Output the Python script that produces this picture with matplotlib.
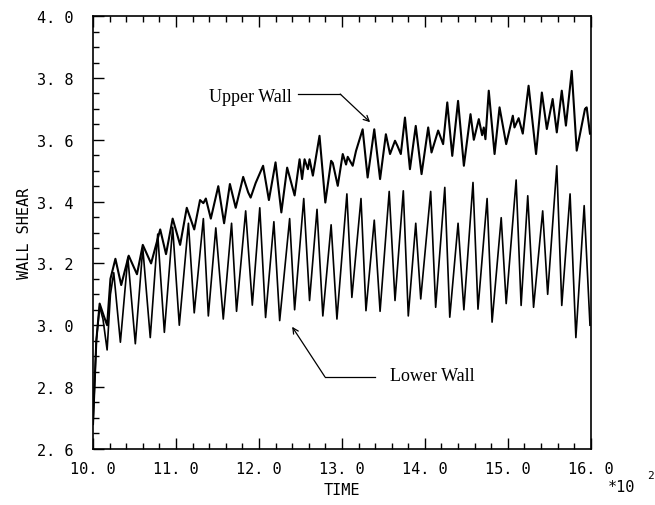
import matplotlib
matplotlib.use("Agg")
import matplotlib.pyplot as plt
from matplotlib.ticker import MultipleLocator, FuncFormatter

# ── data (time in units of 10^2) ──────────────────────────────────────────────
lower_t = [10.00, 10.04, 10.08, 10.12, 10.17, 10.21, 10.25, 10.33, 10.42, 10.51,
           10.60, 10.69, 10.78, 10.86, 10.96, 11.04, 11.15, 11.22, 11.33, 11.39,
           11.48, 11.57, 11.67, 11.73, 11.84, 11.92, 12.01, 12.08, 12.18, 12.25,
           12.37, 12.43, 12.54, 12.61, 12.70, 12.77, 12.87, 12.94, 13.06, 13.12,
           13.23, 13.29, 13.39, 13.46, 13.57, 13.64, 13.74, 13.80, 13.89, 13.95,
           14.07, 14.13, 14.24, 14.30, 14.40, 14.47, 14.58, 14.64, 14.75, 14.81,
           14.92, 14.98, 15.10, 15.16, 15.24, 15.31, 15.42, 15.48, 15.59, 15.65,
           15.75, 15.82, 15.92, 15.99]
lower_v = [2.68, 2.95, 3.06, 3.02, 2.92, 3.10, 3.17, 2.945, 3.22, 2.94,
           3.25, 2.96, 3.295, 2.977, 3.317, 3.00, 3.33, 3.04, 3.345, 3.03,
           3.315, 3.02, 3.33, 3.045, 3.37, 3.065, 3.38, 3.025, 3.335, 3.015,
           3.345, 3.05, 3.41, 3.08, 3.375, 3.03, 3.325, 3.02, 3.425, 3.09,
           3.41, 3.047, 3.34, 3.045, 3.433, 3.08, 3.435, 3.03, 3.33, 3.085,
           3.433, 3.058, 3.446, 3.026, 3.33, 3.05, 3.462, 3.052, 3.41, 3.01,
           3.348, 3.07, 3.47, 3.064, 3.419, 3.058, 3.37, 3.10, 3.516, 3.064,
           3.425, 2.96, 3.387, 3.00]

upper_t = [10.00, 10.04, 10.08, 10.13, 10.17, 10.21, 10.27, 10.34, 10.43, 10.53,
           10.60, 10.70, 10.81, 10.88, 10.96, 11.05, 11.13, 11.22, 11.29, 11.33,
           11.36, 11.42, 11.51, 11.58, 11.65, 11.72, 11.81, 11.87, 11.90, 11.96,
           12.05, 12.12, 12.20, 12.27, 12.34, 12.43, 12.49, 12.52, 12.55, 12.59,
           12.61, 12.65, 12.73, 12.80, 12.87, 12.89, 12.95, 13.01, 13.05, 13.07,
           13.13, 13.17, 13.25, 13.31, 13.39, 13.46, 13.53, 13.58, 13.64, 13.67,
           13.71, 13.76, 13.82, 13.89, 13.96, 14.04, 14.08, 14.16, 14.22, 14.27,
           14.33, 14.40, 14.47, 14.55, 14.59, 14.65, 14.69, 14.71, 14.73, 14.77,
           14.84, 14.90, 14.98, 15.06, 15.08, 15.13, 15.18, 15.25, 15.34, 15.41,
           15.47, 15.54, 15.59, 15.65, 15.70, 15.77, 15.83, 15.93, 15.95, 15.99]
upper_v = [2.68, 2.95, 3.07, 3.03, 3.00, 3.15, 3.215, 3.13, 3.225, 3.165,
           3.26, 3.20, 3.31, 3.23, 3.345, 3.26, 3.38, 3.31, 3.405, 3.395,
           3.41, 3.345, 3.45, 3.33, 3.457, 3.38, 3.48, 3.43, 3.413, 3.46,
           3.516, 3.405, 3.527, 3.365, 3.51, 3.42, 3.537, 3.473, 3.537, 3.505,
           3.537, 3.484, 3.613, 3.397, 3.532, 3.525, 3.451, 3.554, 3.52, 3.545,
           3.516, 3.564, 3.634, 3.478, 3.634, 3.473, 3.618, 3.554, 3.597, 3.58,
           3.554, 3.672, 3.505, 3.645, 3.489, 3.64, 3.559, 3.63, 3.586, 3.721,
           3.548, 3.726, 3.516, 3.683, 3.60, 3.667, 3.615, 3.64, 3.602, 3.759,
           3.554, 3.705, 3.586, 3.678, 3.64, 3.67, 3.62, 3.775, 3.554, 3.753,
           3.635, 3.732, 3.624, 3.759, 3.646, 3.823, 3.565, 3.70, 3.705, 3.62]

MONO = "DejaVu Sans Mono"
SERIF = "Liberation Serif"

# ── figure ────────────────────────────────────────────────────────────────────
fig = plt.figure(figsize=(6.55, 5.06), dpi=100)
ax = fig.add_axes([0.142, 0.111, 0.760, 0.855])

ax.plot(upper_t, upper_v, color="black", lw=1.5, solid_joinstyle="round")
ax.plot(lower_t, lower_v, color="black", lw=1.2, solid_joinstyle="round")

ax.set_xlim(10.0, 16.0)
ax.set_ylim(2.6, 4.0)

ax.xaxis.set_major_locator(MultipleLocator(1.0))
ax.xaxis.set_minor_locator(MultipleLocator(0.2))
ax.yaxis.set_major_locator(MultipleLocator(0.2))
ax.yaxis.set_minor_locator(MultipleLocator(0.05))
fmt = FuncFormatter(lambda v, _: f"{v:.1f}".replace(".", ". "))
ax.xaxis.set_major_formatter(fmt)
ax.yaxis.set_major_formatter(fmt)

ax.tick_params(which="both", direction="in", top=True, right=False,
               width=1.0, labelsize=11)
ax.tick_params(which="major", length=8)
ax.tick_params(which="minor", length=4)
ax.tick_params(axis="y", which="major", pad=14)
ax.tick_params(axis="x", which="major", pad=9)
for lab in ax.get_xticklabels() + ax.get_yticklabels():
    lab.set_family(MONO)
for sp in ax.spines.values():
    sp.set_linewidth(1.2)

ax.set_xlabel("TIME", family=MONO, fontsize=11, labelpad=4)
ax.set_ylabel("WALL SHEAR", family=MONO, fontsize=11, labelpad=4)

# annotations
ax.text(12.40, 3.741, "Upper Wall", family=SERIF, fontsize=13,
        ha="right", va="center")
ax.plot([12.47, 12.98], [3.748, 3.748], color="black", lw=0.9)
ax.annotate("", xy=(13.34, 3.657), xytext=(12.98, 3.748),
            arrowprops=dict(arrowstyle="->", color="black", lw=0.9,
                            shrinkA=0, shrinkB=0))

ax.text(13.58, 2.836, "Lower Wall", family=SERIF, fontsize=13,
        ha="left", va="center")
ax.plot([12.795, 13.40], [2.833, 2.833], color="black", lw=0.9)
ax.annotate("", xy=(12.40, 2.995), xytext=(12.795, 2.833),
            arrowprops=dict(arrowstyle="->", color="black", lw=0.9,
                            shrinkA=0, shrinkB=0))

# exponent marker
fig.text(0.928, 0.022, "*10", family=MONO, fontsize=11, ha="left", va="bottom")
fig.text(0.988, 0.050, "2", family=MONO, fontsize=8, ha="left", va="bottom")

fig.savefig("out.png", dpi=100)
